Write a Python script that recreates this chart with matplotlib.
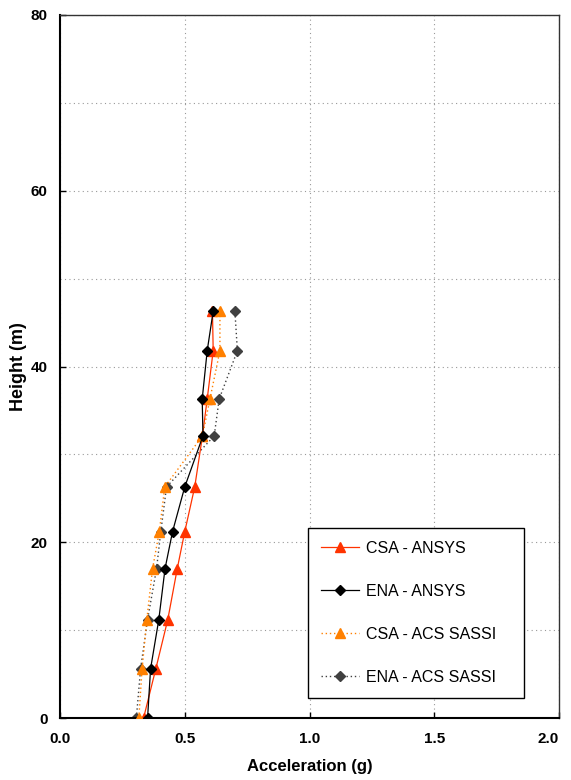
import matplotlib
matplotlib.use("Agg")
import matplotlib.pyplot as plt
from matplotlib.ticker import MultipleLocator

plt.rcParams['font.family'] = ['Liberation Sans', 'DejaVu Sans']

heights = [0, 5.6, 11.2, 17.0, 21.2, 26.3, 32.1, 36.3, 41.8, 46.3]
csa_ansys = [0.335, 0.384, 0.432, 0.470, 0.500, 0.540, 0.571, 0.590, 0.614, 0.611]
ena_ansys = [0.351, 0.363, 0.396, 0.421, 0.451, 0.500, 0.573, 0.570, 0.590, 0.614]
csa_sassi = [0.316, 0.329, 0.348, 0.371, 0.398, 0.420, 0.571, 0.601, 0.641, 0.641]
ena_sassi = [0.306, 0.323, 0.351, 0.387, 0.404, 0.427, 0.618, 0.638, 0.711, 0.701]
labels = ["CSA - ANSYS", "ENA - ANSYS", "CSA - ACS SASSI", "ENA - ACS SASSI"]
xticks = [0.0, 0.5, 1.0, 1.5, 2.0]
yticks = [0, 20, 40, 60, 80]

fig = plt.figure(figsize=(5.71, 7.80), dpi=100)
ax = fig.add_axes([60/571, 62/780, 499/571, 703/780])

ax.plot(csa_ansys, heights, color='#FF3300', lw=0.9, ls='-', marker='^', ms=7,
        mfc='#FF3300', mec='#FF3300', label=labels[0], zorder=3)
ax.plot(ena_ansys, heights, color='#000000', lw=0.9, ls='-', marker='D', ms=5.5,
        mfc='#000000', mec='#000000', label=labels[1], zorder=4)
ax.plot(csa_sassi, heights, color='#FF8000', lw=1.0, ls=(0, (1, 2)), marker='^', ms=7,
        mfc='#FF8000', mec='#FF8000', label=labels[2], zorder=3)
ax.plot(ena_sassi, heights, color='#404040', lw=1.0, ls=(0, (1, 2)), marker='D', ms=5.5,
        mfc='#404040', mec='#404040', label=labels[3], zorder=2)

ax.set_xlim(0, 2.0)
ax.set_ylim(0, 80)
ax.set_xticks(xticks)
ax.set_xticklabels([f"{v:.1f}" for v in xticks])
ax.set_yticks(yticks)
ax.set_yticklabels([str(v) for v in yticks])
ax.yaxis.set_minor_locator(MultipleLocator(10))
ax.grid(True, which='both', axis='y', color='#999999', ls=(0, (1, 3)), lw=0.8)
ax.grid(True, which='major', axis='x', color='#999999', ls=(0, (1, 3)), lw=0.8)
ax.tick_params(axis='y', which='minor', length=0)
ax.tick_params(axis='y', which='major', direction='in', length=4, width=1, pad=9)
ax.tick_params(axis='x', which='major', direction='in', length=4, width=1, pad=10)
for lab in ax.get_xticklabels() + ax.get_yticklabels():
    lab.set_fontweight('bold')
    lab.set_fontsize(11)
ax.get_xticklabels()[-1].set_horizontalalignment('right')
ax.get_xticklabels()[-1].set_x(2.04)
ax.set_xlabel("Acceleration (g)", fontsize=12, fontweight='bold')
ax.xaxis.set_label_coords(0.5, -0.058)
ax.set_ylabel("Height (m)", fontsize=13, fontweight='bold')
ax.yaxis.set_label_coords(-0.066, 0.5)

for s in ['left', 'bottom']:
    ax.spines[s].set_linewidth(1.5)
for s in ['top', 'right']:
    ax.spines[s].set_linewidth(1.0)
    ax.spines[s].set_color('#333333')

leg = ax.legend(loc='lower left', bbox_to_anchor=(0.497, 0.029, 0.433, 0.242), mode='expand',
                borderaxespad=0, fontsize=11.5, frameon=True, fancybox=False,
                edgecolor='black', framealpha=1, labelspacing=1.75, handlelength=2.4,
                borderpad=0.8, handletextpad=0.4)
leg.get_frame().set_linewidth(1.0)

fig.savefig("out.png", dpi=100)
